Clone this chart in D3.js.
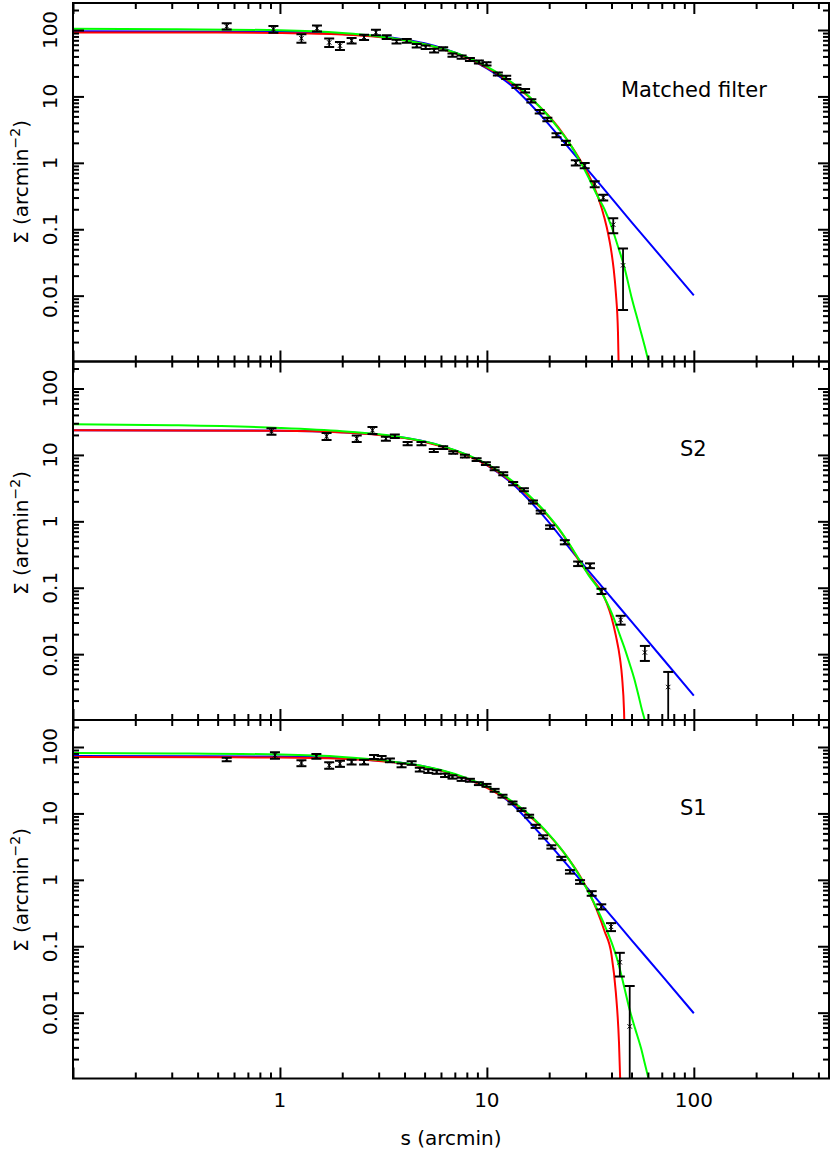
<!DOCTYPE html>
<html><head><meta charset="utf-8">
<script src="https://cdn.jsdelivr.net/npm/d3@7"></script>
<style>body{margin:0;background:#fff} svg{display:block}</style>
</head><body>
<svg id="c" width="830" height="1158"></svg>
<script>
// ---------- axis settings ----------
const xDomain = [0.1, 450];
const yDomain = [0.00102, 255];
const xTickLabels = ["1", "10", "100"];
const yTickLabels = ["0.01", "0.1", "1", "10", "100"];
const panelNames = ["Matched filter", "S2", "S1"];

// ---------- Matched filter panel ----------
const mfX = [0.553, 0.93, 1.27, 1.51, 1.73, 1.95, 2.22, 2.55, 2.91, 3.28, 3.66, 4.1, 4.58, 5.06, 5.56, 6.15, 6.82, 7.55, 8.28, 9.15, 9.96, 11.3, 12.4, 13.9, 15.3, 16.4, 18.0, 19.6, 21.7, 24.1, 26.9, 29.7, 33.2, 36.5, 40.8, 45.5];
const mfY = [114, 103, 75, 106, 65, 58, 69, 78, 92, 78, 67, 69, 58, 55, 49, 52, 42, 39, 36, 33, 31, 21.8, 19.4, 14.2, 12.2, 8.6, 5.9, 4.5, 2.6, 2.0, 1.0, 0.91, 0.48, 0.30, 0.117, 0.0286];
const mfErr = [12, 12, 11, 11, 9.5, 8, 6.5, 7, 8.5, 5, 4.5, 4.5, 3.5, 3.2, 3, 3, 2.4, 2.2, 2, 1.8, 1.7, 1.2, 1.1, 0.8, 0.7, 0.5, 0.35, 0.28, 0.18, 0.15, 0.09, 0.08, 0.05, 0.03, 0.03, 0.0225];
const mfRedX = [0.1, 0.5, 1, 2, 3, 4, 5, 6, 8, 10, 12, 14, 16, 18, 20, 22, 25, 28, 31, 34, 36, 38, 40, 41, 42, 43, 43.5];
const mfRedY = [92, 91.6, 90.3, 85.5, 78.3, 69.9, 61.1, 52.7, 38.1, 27.1, 19.3, 13.7, 9.8, 7.0, 5.0, 3.5, 2.0, 1.15, 0.66, 0.34, 0.2, 0.105, 0.045, 0.025, 0.011, 0.0028, 0.0005];
const mfGreenX = [0.1, 0.3, 1, 2, 3, 4, 5, 6, 8, 10, 12, 14, 16, 18, 20, 22, 25, 28, 31, 34, 37, 40, 43, 46, 50, 54, 58, 61];
const mfGreenY = [104, 103, 99, 90, 80, 70, 61, 53, 39, 28, 20, 14.2, 10, 7.0, 4.9, 3.4, 2.0, 1.1, 0.6, 0.33, 0.2, 0.11, 0.055, 0.028, 0.0095, 0.0039, 0.0017, 0.0009];
const mfBlueX = [0.1, 1, 2, 3, 4, 5, 6.4, 8, 10, 13, 18, 25, 34, 50, 70, 100];
const mfBlueY = [96, 94, 87, 80.5, 72, 63, 50.5, 38.5, 26.5, 15, 5.4, 1.65, 0.54, 0.128, 0.0374, 0.0101];

// ---------- S2 panel ----------
const s2X = [0.91, 1.68, 2.35, 2.8, 3.25, 3.59, 4.14, 4.83, 5.54, 6.15, 6.88, 7.83, 8.92, 9.89, 10.9, 12.0, 13.4, 15.1, 16.7, 18.2, 20.2, 23.8, 27.6, 31.5, 35.8, 44.3, 58, 75.2];
const s2Y = [22.7, 19.1, 17.6, 23.5, 17.6, 19.1, 14.8, 14.8, 11.7, 12.9, 10.9, 9.6, 8.5, 7.4, 6.2, 5.2, 3.7, 3.0, 1.95, 1.38, 0.82, 0.485, 0.23, 0.215, 0.0885, 0.0328, 0.0106, 0.0032];
const s2Err = [2.5, 2.3, 2.0, 2.8, 1.2, 1.2, 0.8, 0.8, 0.6, 0.6, 0.5, 0.45, 0.4, 0.35, 0.3, 0.28, 0.2, 0.16, 0.1, 0.07, 0.05, 0.035, 0.018, 0.018, 0.008, 0.005, 0.0027, 0.0022];
const s2RedX = [0.1, 1, 2, 3, 4, 5, 6, 8, 10, 12, 14, 16, 18, 20, 22, 25, 28, 31, 34, 36, 38, 40, 42, 44, 45, 46, 46.5];
const s2RedY = [23.5, 23.1, 21.8, 20.0, 17.9, 15.7, 13.5, 9.85, 7.0, 4.9, 3.4, 2.35, 1.65, 1.15, 0.8, 0.45, 0.25, 0.16, 0.11, 0.085, 0.058, 0.036, 0.019, 0.0085, 0.0045, 0.0014, 0.0004];
const s2GreenX = [0.1, 0.3, 1, 2, 3, 4, 5, 6, 8, 10, 12, 14, 16, 18, 20, 22, 25, 28, 31, 34, 36, 38, 40.8, 44, 46, 49, 51.5, 54, 56, 58, 59];
const s2GreenY = [29, 28, 25.5, 22.8, 20.5, 18.2, 16, 13.8, 10.1, 7.3, 5.1, 3.55, 2.45, 1.7, 1.18, 0.82, 0.46, 0.26, 0.155, 0.105, 0.082, 0.06, 0.0365, 0.019, 0.013, 0.0071, 0.0043, 0.0024, 0.0015, 0.001, 0.0008];
const s2BlueX = [0.1, 1, 2, 3, 4, 5, 6, 8, 10, 13, 18, 28, 35.8, 50, 70, 100];
const s2BlueY = [23.5, 23.2, 22.0, 20.2, 18.1, 15.9, 13.7, 10.0, 7.0, 3.9, 1.4, 0.26, 0.106, 0.0308, 0.0089, 0.00237];

// ---------- S1 panel ----------
const s1X = [0.553, 0.946, 1.27, 1.50, 1.73, 1.95, 2.22, 2.55, 2.85, 3.1, 3.4, 3.87, 4.33, 4.74, 5.21, 5.72, 6.28, 6.82, 7.55, 8.28, 9.15, 9.96, 10.9, 11.9, 13.3, 14.7, 16.0, 17.2, 18.7, 20.5, 22.9, 25.2, 28.2, 32.1, 35.7, 39.8, 43.9, 49];
const s1Y = [65, 75, 57.4, 72.5, 53, 56.2, 59.5, 59.5, 70.7, 69, 63, 53, 57.4, 45.7, 43.5, 42.1, 37.5, 35.4, 32.7, 31.6, 28.1, 26.5, 22.3, 18.2, 14.4, 11.4, 9.1, 6.4, 4.43, 3.13, 2.1, 1.32, 0.93, 0.625, 0.393, 0.196, 0.0573, 0.0062];
const s1Err = [4, 8.5, 6, 6, 6, 6, 5, 5, 5, 4, 4, 3.5, 3.5, 3, 2.8, 2.6, 2.2, 2, 1.8, 1.6, 1.4, 1.3, 1.1, 0.9, 0.7, 0.55, 0.45, 0.35, 0.25, 0.18, 0.12, 0.08, 0.06, 0.05, 0.035, 0.027, 0.0223, 0.019];
const s1RedX = [0.1, 1, 2, 3, 4, 5, 6, 8, 10, 12, 14, 16, 18, 20, 22, 25, 28, 31, 34, 37, 40, 42, 43.5, 44.3];
const s1RedY = [70.6, 69.5, 66.5, 61.8, 56.2, 50.2, 44.1, 33.1, 24.3, 17.7, 12.9, 9.2, 6.6, 4.7, 3.35, 2.0, 1.18, 0.66, 0.35, 0.17, 0.075, 0.02, 0.0035, 0.0006];
const s1GreenX = [0.1, 0.3, 1, 2, 3, 4, 5, 6, 8, 10, 12, 14, 16, 18, 20, 22, 25, 28, 31, 34, 37, 40, 43, 46, 49, 52, 55.6, 58, 61];
const s1GreenY = [81, 80, 77, 71, 64, 57, 51, 45, 34, 25.5, 18.5, 13.5, 9.6, 6.8, 4.8, 3.4, 2.0, 1.15, 0.65, 0.37, 0.21, 0.115, 0.058, 0.025, 0.011, 0.0058, 0.0029, 0.0017, 0.0009];
const s1BlueX = [0.1, 1, 2, 3, 4, 5, 6.4, 8, 10, 13, 18, 26, 31.7, 50, 70, 100];
const s1BlueY = [73, 72, 67.5, 62.5, 57, 51, 42, 33, 25, 14.5, 5.0, 1.35, 0.66, 0.124, 0.0363, 0.0098];

// ---------- assemble ----------
const panels = [
  {name: panelNames[0], px: mfX, py: mfY, pe: mfErr, red: [mfRedX, mfRedY], green: [mfGreenX, mfGreenY], blue: [mfBlueX, mfBlueY]},
  {name: panelNames[1], px: s2X, py: s2Y, pe: s2Err, red: [s2RedX, s2RedY], green: [s2GreenX, s2GreenY], blue: [s2BlueX, s2BlueY]},
  {name: panelNames[2], px: s1X, py: s1Y, pe: s1Err, red: [s1RedX, s1RedY], green: [s1GreenX, s1GreenY], blue: [s1BlueX, s1BlueY]}
];

const W = 830, H = 1158;
const left = 73, right = 829;
const panelTops = [3, 361.5, 720];
const panelH = 358.5;
const labelPos = [{x: 621, y: 97}, {x: 680, y: 456}, {x: 680, y: 815}];
const yTitleCenter = [182, 533, 890];
const FONT = "'DejaVu Sans', sans-serif";

const svg = d3.select('#c');
svg.append('rect').attr('width', W).attr('height', H).attr('fill', '#fff');

const x = d3.scaleLog().domain(xDomain).range([left, right]);
const isMajor = v => Math.abs(Math.log10(v) - Math.round(Math.log10(v))) < 1e-6;
const xTicks = x.ticks(10);
const xMajor = xTicks.filter(isMajor), xMinor = xTicks.filter(v => !isMajor(v));

panels.forEach((p, i) => {
  const top = panelTops[i], bot = top + panelH;
  const y = d3.scaleLog().domain(yDomain).range([bot, top]);
  const g = svg.append('g');
  const clipId = 'clip' + i;
  svg.append('clipPath').attr('id', clipId).append('rect')
    .attr('x', left).attr('y', top).attr('width', right - left).attr('height', panelH);
  const cg = g.append('g').attr('clip-path', `url(#${clipId})`);

  // model curves
  const line = d3.line().x(d => x(d[0])).y(d => y(d[1])).curve(d3.curveMonotoneX);
  [['#0000ff', p.blue], ['#ff0000', p.red], ['#00ff00', p.green]].forEach(([c, arr]) => {
    cg.append('path').datum(d3.zip(arr[0], arr[1])).attr('d', line)
      .attr('fill', 'none').attr('stroke', c).attr('stroke-width', 2);
  });

  // data with error bars
  const pts = d3.zip(p.px, p.py, p.pe);
  const eg = cg.append('g').attr('stroke', '#000');
  pts.forEach(([vx, vy, ve]) => {
    const cx = x(vx), cy = y(vy);
    const yHi = y(vy + ve);
    const yLo = (vy - ve) > 0 ? y(vy - ve) : bot + 30;
    eg.append('line').attr('x1', cx).attr('x2', cx).attr('y1', yHi).attr('y2', yLo).attr('stroke-width', 1.8);
    eg.append('line').attr('x1', cx - 5).attr('x2', cx + 5).attr('y1', yHi).attr('y2', yHi).attr('stroke-width', 2);
    eg.append('line').attr('x1', cx - 5).attr('x2', cx + 5).attr('y1', yLo).attr('y2', yLo).attr('stroke-width', 2);
    eg.append('line').attr('x1', cx - 2.2).attr('x2', cx + 2.2).attr('y1', cy - 2.2).attr('y2', cy + 2.2).attr('stroke-width', 1);
    eg.append('line').attr('x1', cx - 2.2).attr('x2', cx + 2.2).attr('y1', cy + 2.2).attr('y2', cy - 2.2).attr('stroke-width', 1);
  });

  // ticks (inward on all four sides) using d3 axes
  const yTicks = y.ticks(10);
  const yMajor = yTicks.filter(isMajor), yMinor = yTicks.filter(v => !isMajor(v));
  const addAxis = (axisFn, scale, vals, size, tr) => {
    const a = axisFn(scale).tickValues(vals).tickSizeInner(-size).tickSizeOuter(0).tickFormat('');
    const gg = g.append('g').attr('transform', tr).call(a);
    gg.select('.domain').remove();
    gg.selectAll('line').attr('stroke', '#000').attr('stroke-width', 2);
  };
  addAxis(d3.axisBottom, x, xMinor, 6, `translate(0,${bot})`);
  addAxis(d3.axisBottom, x, xMajor, 11, `translate(0,${bot})`);
  addAxis(d3.axisTop, x, xMinor, 6, `translate(0,${top})`);
  addAxis(d3.axisTop, x, xMajor, 11, `translate(0,${top})`);
  addAxis(d3.axisLeft, y, yMinor, 6, `translate(${left},0)`);
  addAxis(d3.axisLeft, y, yMajor, 11, `translate(${left},0)`);
  addAxis(d3.axisRight, y, yMinor, 6, `translate(${right},0)`);
  addAxis(d3.axisRight, y, yMajor, 11, `translate(${right},0)`);

  // frame
  g.append('rect').attr('x', left).attr('y', top).attr('width', right - left).attr('height', panelH)
    .attr('fill', 'none').attr('stroke', '#000').attr('stroke-width', 2);

  // y tick labels (rotated)
  yMajor.forEach(v => {
    const lab = yTickLabels.find(s => Math.abs(+s - v) < 1e-9);
    if (!lab) return;
    g.append('text').attr('transform', `translate(57,${y(v)}) rotate(-90)`)
      .attr('text-anchor', 'middle').attr('font-family', FONT).attr('font-size', 20)
      .attr('fill', '#000').text(lab);
  });

  // y title
  const t = g.append('text').attr('transform', `translate(28,${yTitleCenter[i]}) rotate(-90)`)
    .attr('text-anchor', 'middle').attr('font-family', FONT).attr('font-size', 20).attr('fill', '#000');
  t.append('tspan').text('Σ (arcmin');
  t.append('tspan').attr('dy', -8).attr('font-size', 14).text('−2');
  t.append('tspan').attr('dy', 8).text(')');

  // panel label
  g.append('text').attr('x', labelPos[i].x).attr('y', labelPos[i].y)
    .attr('font-family', FONT).attr('font-size', 21).attr('fill', '#000').text(p.name);

  // x tick labels at bottom of last panel
  if (i === panels.length - 1) {
    xMajor.forEach(v => {
      const lab = xTickLabels.find(s => Math.abs(+s - v) < 1e-9);
      if (!lab) return;
      g.append('text').attr('x', x(v)).attr('y', bot + 28).attr('text-anchor', 'middle')
        .attr('font-family', FONT).attr('font-size', 20).attr('fill', '#000').text(lab);
    });
    g.append('text').attr('x', (left + right) / 2).attr('y', 1145).attr('text-anchor', 'middle')
      .attr('font-family', FONT).attr('font-size', 20).attr('fill', '#000').text('s (arcmin)');
  }
});
</script>
</body></html>
